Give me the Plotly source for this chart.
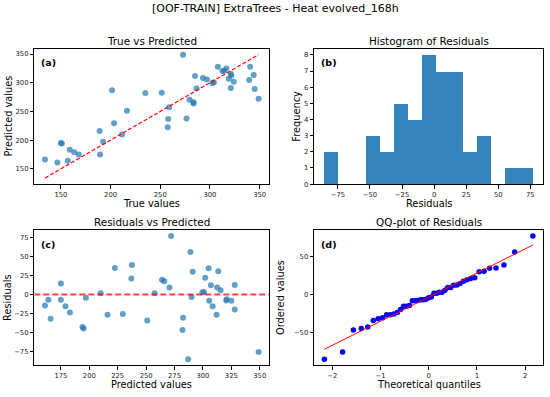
import numpy as np
import plotly.graph_objects as go
from statistics import NormalDist

# ---- data ----
y_pred = [166, 161, 195, 194, 164, 183, 179, 175, 216, 175, 197, 287, 229.5, 210, 251,
          282, 282.5, 257.5, 237, 222.5, 349, 237.5, 270.5, 266, 264, 312, 290, 308.5,
          305.5, 299.5, 301, 328, 320.5, 321, 325, 307, 315.5, 312.5, 291, 302, 328,
          305, 313.5, 289, 272]
y_true = [134, 146.5, 150, 151, 157, 159, 163.5, 168, 189, 189.5, 192.5, 201.5, 203.5,
          211.5, 216.5, 235, 251.5, 259, 258, 257.5, 273, 276.5, 279.5, 283.5, 283.5,
          285, 286.5, 293, 297, 302.5, 304, 308, 312.5, 314.5, 316.5, 319, 321, 321.5,
          321, 324, 340.5, 339.5, 344, 345, 349]

suptitle = "[OOF-TRAIN] ExtraTrees - Heat evolved_168h"
titles = ["True vs Predicted", "Histogram of Residuals", "Residuals vs Predicted", "QQ-plot of Residuals"]
xlabels = ["True values", "Residuals", "Predicted values", "Theoretical quantiles"]
ylabels = ["Predicted values", "Frequency", "Residuals", "Ordered values"]
letters = ["(a)", "(b)", "(c)", "(d)"]
n_bins = 15

yt = np.array(y_true, float)
yp = np.array(y_pred, float)
res = yt - yp
n = len(res)

# histogram
counts, edges = np.histogram(res, bins=n_bins)
centers = (edges[:-1] + edges[1:]) / 2
bw = edges[1] - edges[0]

# QQ (Filliben medians like scipy.stats.probplot)
m = np.empty(n)
m[-1] = 0.5 ** (1.0 / n)
m[0] = 1 - m[-1]
i = np.arange(2, n)
m[1:-1] = (i - 0.3175) / (n + 0.365)
nd = NormalDist()
osm = np.array([nd.inv_cdf(p) for p in m])
osr = np.sort(res)
slope, intercept = np.polyfit(osm, osr, 1)
fit = slope * osm + intercept


def pad(lo, hi, f=0.05):
    d = (hi - lo) * f
    return [lo - d, hi + d]


FONT = "DejaVu Sans"
C0 = "#1f77b4"

fig = go.Figure()
# (a)
lo, hi = yt.min(), yt.max()
fig.add_trace(go.Scatter(x=yt, y=yp, mode="markers", xaxis="x", yaxis="y",
                         marker=dict(color=C0, size=6, opacity=0.7, line=dict(width=0))))
fig.add_trace(go.Scatter(x=[lo, hi], y=[lo, hi], mode="lines", xaxis="x", yaxis="y",
                         line=dict(color="red", width=1.2, dash="4px,2px")))
# (b)
fig.add_trace(go.Bar(x=centers, y=counts, width=bw, xaxis="x2", yaxis="y2",
                     marker=dict(color=C0, opacity=0.9, line=dict(width=0))))
# (c)
fig.add_trace(go.Scatter(x=yp, y=res, mode="markers", xaxis="x3", yaxis="y3",
                         marker=dict(color=C0, size=6, opacity=0.7, line=dict(width=0))))
xr3 = pad(yp.min(), yp.max())
fig.add_trace(go.Scatter(x=xr3, y=[0, 0], mode="lines", xaxis="x3", yaxis="y3",
                         line=dict(color="rgba(255,0,0,0.75)", width=2, dash="6px,3px")))
# (d)
fig.add_trace(go.Scatter(x=osm, y=osr, mode="markers", xaxis="x4", yaxis="y4",
                         marker=dict(color="blue", size=5.5, line=dict(width=0))))
fig.add_trace(go.Scatter(x=osm, y=fit, mode="lines", xaxis="x4", yaxis="y4",
                         line=dict(color="red", width=1)))

W, H = 550, 397
colx = [[34.3 / W, 269.3 / W], [314 / W, 543.3 / W]]
rowy = [[1 - 186 / H, 1 - 49 / H], [1 - 369 / H, 1 - 232.3 / H]]

axbase = dict(showline=True, mirror=True, linecolor="black", linewidth=0.8,
              ticks="outside", ticklen=3.5, tickwidth=0.8, tickcolor="black",
              showgrid=False, zeroline=False,
              tickfont=dict(family=FONT, size=6.8, color="#222"))

ranges = [
    (pad(lo, hi), pad(min(yp.min(), lo), max(yp.max(), hi)), dict(tickvals=[150, 200, 250, 300, 350]), dict(tickvals=[150, 200, 250, 300, 350])),
    (pad(edges[0], edges[-1]), [0, counts.max() * 1.05], dict(tickvals=[-75, -50, -25, 0, 25, 50, 75]), dict(tickvals=list(range(0, 9)))),
    (xr3, pad(res.min(), res.max()), dict(tickvals=[175, 200, 225, 250, 275, 300, 325, 350]), dict(tickvals=[-75, -50, -25, 0, 25, 50, 75])),
    (pad(osm.min(), osm.max()), pad(min(osr.min(), fit.min()), max(osr.max(), fit.max())), dict(tickvals=[-2, -1, 0, 1, 2]), dict(tickvals=[-50, 0, 50])),
]

layout = dict(width=W, height=H, margin=dict(l=0, r=0, t=0, b=0),
              paper_bgcolor="white", plot_bgcolor="white", showlegend=False,
              bargap=0, font=dict(family=FONT, color="black"))
annotations = []
ytitle_off = [26, 17.6, 27, 33.6]
for k in range(4):
    r, c = divmod(k, 2)
    sx = "" if k == 0 else str(k + 1)
    xr, yr, xt, ytk = ranges[k]
    layout["xaxis" + sx] = dict(axbase, domain=colx[c], anchor="y" + sx, range=xr, **xt)
    layout["yaxis" + sx] = dict(axbase, domain=rowy[r], anchor="x" + sx, range=yr, **ytk)
    xd, yd = "x" + sx + " domain", "y" + sx + " domain"
    annotations.append(dict(text=titles[k], xref=xd, yref=yd, x=0.5, y=1, yshift=8,
                            xanchor="center", yanchor="middle", showarrow=False,
                            font=dict(family=FONT, size=10.4, color="black")))
    annotations.append(dict(text=xlabels[k], xref=xd, yref=yd, x=0.5, y=0, yshift=-19.5,
                            xanchor="center", yanchor="middle", showarrow=False,
                            font=dict(family=FONT, size=9.8, color="black")))
    annotations.append(dict(text=ylabels[k], xref=xd, yref=yd, x=0, y=0.5, xshift=-ytitle_off[k],
                            textangle=-90, xanchor="center", yanchor="middle", showarrow=False,
                            font=dict(family=FONT, size=9.8, color="black")))
    annotations.append(dict(text="<b>" + letters[k] + "</b>", xref=xd, yref=yd, x=0.02, y=0.95,
                            xanchor="left", yanchor="top", showarrow=False,
                            font=dict(family=FONT, size=9.5, color="black")))
annotations.append(dict(text=suptitle, xref="paper", yref="paper", x=0.5, y=1, yshift=-8,
                        xanchor="center", yanchor="middle", showarrow=False,
                        font=dict(family=FONT, size=11, color="black")))
layout["annotations"] = annotations
fig.update_layout(**layout)
fig.write_html("out.html", config={"displayModeBar": False},
               post_script="document.body.style.margin='0';")
